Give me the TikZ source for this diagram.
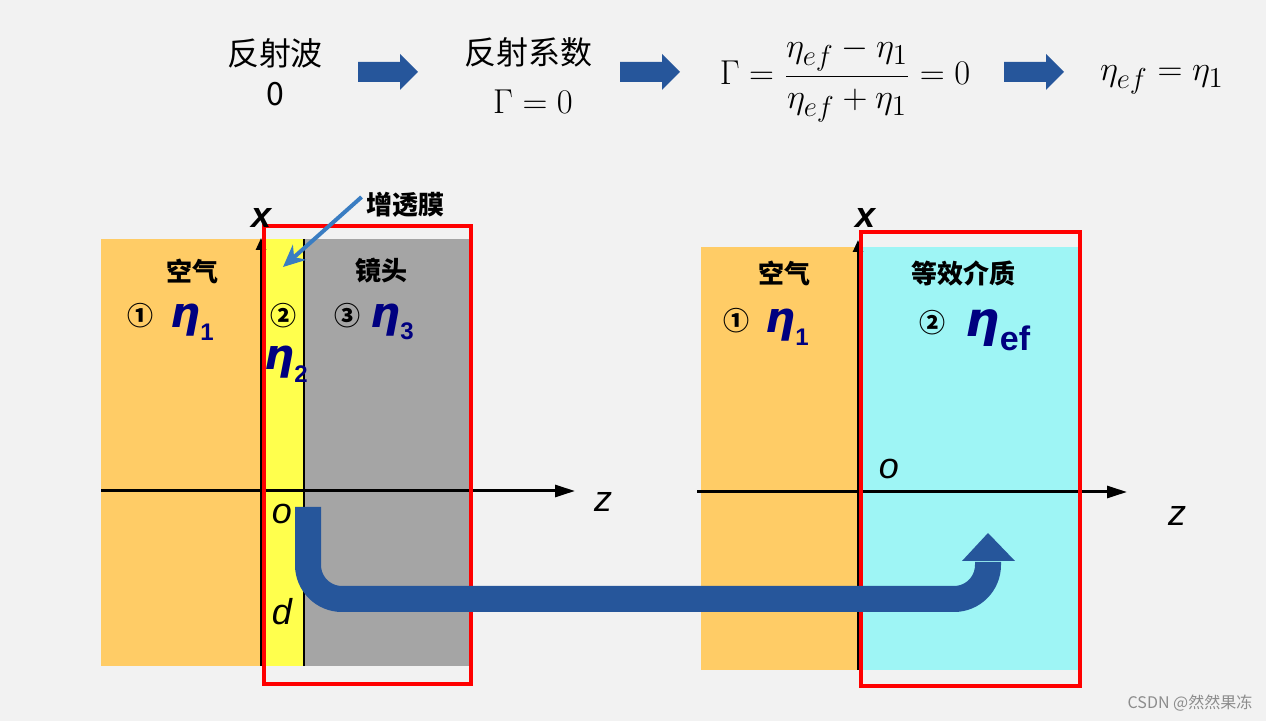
\documentclass[tikz,border=0pt]{standalone}
\usepackage[no-math]{fontspec}
\usepackage{amsmath}
\usetikzlibrary{arrows.meta, positioning, calc}
\newfontfamily\hei{Noto Sans CJK SC}
\newfontfamily\lat{Liberation Sans}
\newfontfamily\grk{DejaVu Sans}
\definecolor{fondo}{HTML}{F2F2F2}
\definecolor{aire}{HTML}{FFCC66}
\definecolor{pelicula}{HTML}{FFFF4D}
\definecolor{lente}{HTML}{A5A5A5}
\definecolor{efectivo}{HTML}{9EF5F5}
\definecolor{azulf}{HTML}{26569B}
\definecolor{azulc}{HTML}{3A7DC2}
\definecolor{marino}{HTML}{000080}
\newcommand{\etasub}[2][12pt]{{\grk\bfseries\itshape η}\raisebox{-0.3em}{\lat\bfseries\fontsize{#1}{#1}\selectfont #2}}
\tikzset{
  txtcjk/.style={font=\hei\fontsize{16}{20}\selectfont, align=center, inner sep=0pt},
  txtmat/.style={font=\fontsize{19}{22}\selectfont, inner sep=0pt},
  bloque/.pic={\fill[azulf] (-30,-10) -- (12,-10) -- (12,-18) -- (30,0) -- (12,18) -- (12,10) -- (-30,10) -- cycle;},
  medio/.style={font=\hei\bfseries\fontsize{13}{15}\selectfont, inner sep=0pt},
  circ/.style={font=\hei\bfseries\fontsize{13}{15}\selectfont, inner sep=0pt},
  eta/.style={font=\fontsize{21}{24}\selectfont, text=marino, inner sep=0pt},
  eje/.style={line width=1.5pt, -{Triangle[length=10pt, width=6pt]}},
  ejev/.style={line width=1.2pt, -{Triangle[length=6pt, width=5pt]}},
  rotulo/.style={font=\lat\itshape\fontsize{18}{20}\selectfont, inner sep=0pt},
  marco/.style={draw=red, line width=2pt},
  tubo/.style={line width=13pt, draw=azulf, rounded corners=17pt}
}

\begin{document}
\begin{tikzpicture}[x=0.5pt, y=-0.5pt]
  \fill[fondo] (0,0) rectangle (1266,721);
  \useasboundingbox (0,0) rectangle (1266,721);

  \node (rw) [txtcjk] at (275,72) {反射波\\0};
  \pic at (388,72) {bloque};
  \node (rc) [txtcjk] at (528,52) {反射系数};
  \node (g0) [txtmat] at (533,102) {$\Gamma=0$};
  \pic at (650,72) {bloque};
  \node (fr) [txtmat] at (845,80) {$\Gamma=\dfrac{\eta_{ef}-\eta_{1}}{\eta_{ef}+\eta_{1}}=0$};
  \pic at (1034,72) {bloque};
  \node (res) [txtmat] at (1162,80) {$\eta_{ef}=\eta_{1}$};

  \fill[aire] (101,239) rectangle (262,666);
  \fill[pelicula] (262,239) rectangle (304,666);
  \fill[lente] (304,239) rectangle (471,666);
  \draw[line width=1.2pt] (304,239) -- (304,666);
  \draw[eje] (101,491) -- (575,491);
  \draw[ejev] (261,666) -- (261,238);
  \draw[marco] (264,226) rectangle (471,684);

  \node (xl) [rotulo, font=\lat\bfseries\itshape\fontsize{18}{20}\selectfont] at (262,218) {x};
  \node (zl) [rotulo] at (603,502) {z};
  \node (ol) [rotulo] at (282,514) {o};
  \node (dl) [rotulo] at (282,612) {d};
  \node (aire1) [medio] at (192,271) {空气};
  \node (lens) [medio] at (381,271) {镜头};
  \node (c1) [circ] at (140,316) {①};
  \node (e1) [eta] at (192,322) {\etasub{1}};
  \node (c2) [circ] at (283,316) {②};
  \node (e2) [eta] at (286,364) {\etasub{2}};
  \node (c3) [circ] at (347,316) {③};
  \node (e3) [eta] at (392,322) {\etasub{3}};
  \node (film) [medio] at (405,205) {增透膜};
  \draw[azulc, line width=2pt, -{Stealth[length=11pt, width=10pt]}] (film.west) ++(-4,-8) coordinate (pf) -- (283,267);

  \fill[aire] (701,247) rectangle (860,670);
  \fill[efectivo] (860,247) rectangle (1078,670);
  \draw[eje] (697,492) -- (1127,492);
  \draw[ejev] (858,670) -- (858,240);
  \draw[marco] (861,232) rectangle (1080,686);

  \node (xr) [rotulo, font=\lat\bfseries\itshape\fontsize{18}{20}\selectfont] at (866,218) {x};
  \node (zr) [rotulo] at (1177,516) {z};
  \node (or) [rotulo] at (889,469) {o};
  \node (aire2) [medio] at (784,273) {空气};
  \node (equiv) [medio] at (963,273) {等效介质};
  \node (c1r) [circ] at (736,321) {①};
  \node (e1r) [eta] at (787,327) {\etasub{1}};
  \node (c2r) [circ] at (932,323) {②};
  \node (efr) [eta, font=\fontsize{24}{26}\selectfont] at (998,330) {\etasub[17pt]{ef}};

  \coordinate (ini) at (308,507);
  \coordinate (fin) at (988,562);
  \draw[tubo] (ini) -- (308,599) -- (988,599) -- (fin);
  \fill[azulf] (962,561) -- (1015,561) -- (988,533) -- cycle;

  \node (marca) [font=\hei\fontsize{8}{10}\selectfont, text=black!45] at (1190,703) {CSDN @然然果冻};
\end{tikzpicture}
\end{document}
